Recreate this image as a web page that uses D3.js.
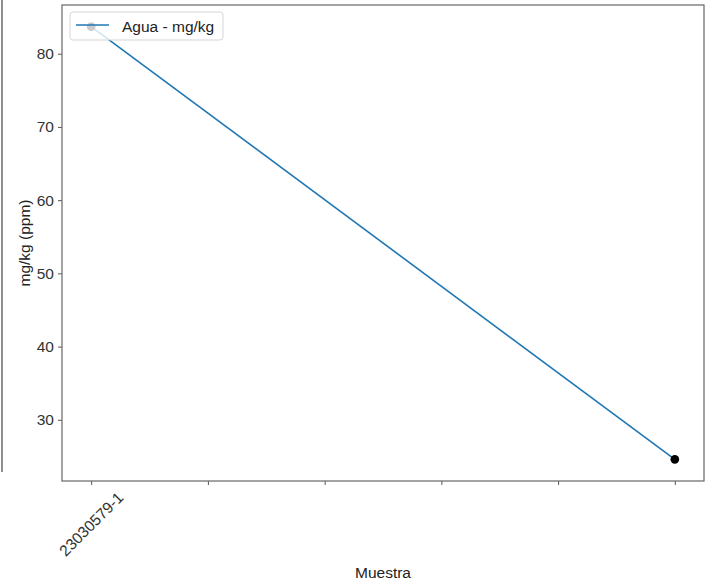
<!DOCTYPE html>
<html><head><meta charset="utf-8">
<script src="https://cdn.jsdelivr.net/npm/d3@7"></script>
<style>body{margin:0;background:#fff}svg{display:block}text{font-family:"Liberation Sans",Arial,Helvetica,sans-serif}</style>
</head><body>
<script>
const categories = ["23030579-1", "", "", "", "", ""];
const pointIndex = [0, 5];
const values = [83.7, 24.6];
const yTicks = [30, 40, 50, 60, 70, 80];
const seriesName = "Agua - mg/kg";
const xTitle = "Muestra";
const yTitle = "mg/kg (ppm)";

const W = 715, H = 585, FS = "15.5px";
const svg = d3.select("body").append("svg").attr("width", W).attr("height", H);
const L = 62, R = 704, T = 5, B = 481;

const x = d3.scaleLinear().domain([-0.25, 5.25]).range([L, R]);
const ymin = d3.min(values), ymax = d3.max(values), pad = (ymax - ymin) * 0.05;
const y = d3.scaleLinear().domain([ymin - pad, ymax + pad]).range([B, T]);

// stray left line
svg.append("line").attr("x1", 2).attr("x2", 2).attr("y1", 0).attr("y2", 472)
  .attr("stroke", "#444").attr("stroke-width", 1.2);

// axes
const yAxis = svg.append("g").attr("transform", `translate(${L},0)`)
  .call(d3.axisLeft(y).tickValues(yTicks).tickSize(4).tickPadding(4).tickFormat(d3.format("d")));
const xAxis = svg.append("g").attr("transform", `translate(0,${B})`)
  .call(d3.axisBottom(x).tickValues(d3.range(categories.length)).tickSize(4).tickFormat(""));
[yAxis, xAxis].forEach(g => {
  g.select(".domain").remove();
  g.selectAll(".tick line").attr("stroke", "#444").attr("stroke-width", 0.9);
  g.selectAll(".tick text").attr("fill", "#333").style("font-size", FS);
});

// x tick labels rotated
categories.forEach((c, i) => {
  if (!c) return;
  svg.append("text").attr("transform", `translate(${x(i)},${524}) rotate(-45)`)
    .attr("text-anchor", "middle").attr("dominant-baseline", "central")
    .attr("fill", "#333").style("font-size", FS).text(c);
});

// frame
svg.append("rect").attr("x", L).attr("y", T).attr("width", R - L).attr("height", B - T)
  .attr("fill", "none").attr("stroke", "#666").attr("stroke-width", 1.2);

// line + markers
const pts = pointIndex.map((p, i) => [x(p), y(values[i])]);
svg.append("path").attr("d", d3.line()(pts)).attr("fill", "none")
  .attr("stroke", "#1f77b4").attr("stroke-width", 1.6);
svg.selectAll("circle.pt").data(pts).join("circle").attr("class", "pt")
  .attr("cx", d => d[0]).attr("cy", d => d[1]).attr("r", 4.3).attr("fill", "#000");

// legend
const lg = svg.append("g");
lg.append("rect").attr("x", 70).attr("y", 12).attr("width", 153).attr("height", 28).attr("rx", 3)
  .attr("fill", "#fff").attr("fill-opacity", 0.8).attr("stroke", "#d0d0d0").attr("stroke-width", 0.9);
lg.append("line").attr("x1", 76).attr("x2", 109).attr("y1", 25).attr("y2", 25)
  .attr("stroke", "#1f77b4").attr("stroke-width", 1.6);
lg.append("text").attr("x", 122).attr("y", 26).attr("dominant-baseline", "central")
  .attr("fill", "#222").style("font-size", FS).text(seriesName);

// titles
svg.append("text").attr("x", (L + R) / 2).attr("y", 578).attr("text-anchor", "middle")
  .attr("fill", "#222").style("font-size", FS).text(xTitle);
svg.append("text").attr("transform", `translate(30,${(T + B) / 2}) rotate(-90)`).attr("text-anchor", "middle")
  .attr("fill", "#222").style("font-size", FS).text(yTitle);
</script>
</body></html>
